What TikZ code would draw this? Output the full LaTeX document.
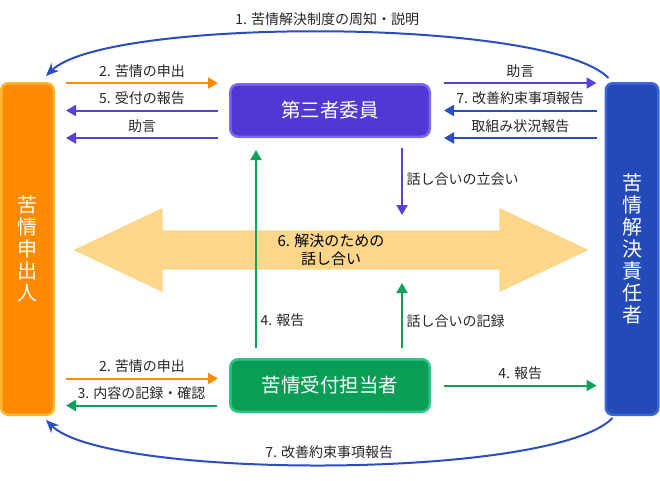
\documentclass[tikz,border=0pt]{standalone}
\usepackage{fontspec}
\setmainfont{Noto Sans CJK JP}
\usepackage{xcolor}
\usetikzlibrary{arrows.meta, shapes.arrows, positioning}

\definecolor{cOrange}{HTML}{FF8A00}
\definecolor{cOrangeEdge}{HTML}{FFB52E}
\definecolor{cBlue}{HTML}{2449B9}
\definecolor{cBlueEdge}{HTML}{3A68D8}
\definecolor{cPurple}{HTML}{5038D2}
\definecolor{cPurpleEdge}{HTML}{7E68EC}
\definecolor{cGreen}{HTML}{0A9D55}
\definecolor{cGreenEdge}{HTML}{2FC58A}
\definecolor{cPurpleLine}{HTML}{5A3FD9}
\definecolor{cBlueLine}{HTML}{2B4DC0}
\definecolor{cGreenLine}{HTML}{0FA05A}
\definecolor{cTalk}{HTML}{FDD68A}

\begin{document}
\begin{tikzpicture}[
  x=1pt, y=-1pt,
  bar/.style={rectangle, draw, rounded corners=7pt, line width=2.5pt, minimum width=52.5pt, minimum height=331.5pt, text=white, align=center, font=\fontsize{20}{22}\selectfont},
  box/.style={rectangle, draw, rounded corners=8pt, line width=2.5pt, minimum width=199.5pt, minimum height=52.5pt, text=white, font=\fontsize{19.5}{21}\selectfont},
  lbl/.style={font=\fontsize{14}{16}\selectfont, text=black!85, inner sep=1.5pt},
  arr/.style={-{Triangle[length=10pt,width=11pt]}, line width=2pt},
  curve/.style={-{Stealth[length=13pt,width=11pt]}, line width=2pt, cBlueLine}
]
\useasboundingbox (0,0) rectangle (660,480);

% Discussion arrow (behind everything)
\node[double arrow, fill=cTalk, minimum height=515pt, minimum width=84pt, double arrow head extend=19.5pt, double arrow tip angle=50.5, inner sep=1pt, align=center, font=\fontsize{15}{18}\selectfont] (talk) at (331,250) {6. 解決のための\\話し合い};

% People and committee
\node[bar, fill=cOrange, draw=cOrangeEdge] (lbar) at (27.5,249) {苦\\情\\申\\出\\人};
\node[bar, fill=cBlue, draw=cBlueEdge] (rbar) at (632,249) {苦\\情\\解\\決\\責\\任\\者};
\node[box, fill=cPurple, draw=cPurpleEdge] (tbox) at (330,110.5) {第三者委員};
\node[box, fill=cGreen, draw=cGreenEdge] (bbox) at (330,385.5) {苦情受付担当者};

% Rails next to the bars
\coordinate (lin) at ([xshift=11pt]lbar.east);
\coordinate (rin) at ([xshift=-8pt]rbar.west);
\coordinate (b1) at ([xshift=-11pt,yshift=7pt]bbox.west);
\coordinate (b2) at ([xshift=-12pt,yshift=-20pt]bbox.west);

% Arrows - committee, left
\draw[arr, cOrange] (lin |- tbox.north) -- ([xshift=-11pt]tbox.north west) node[lbl, midway, above=3pt] {2. 苦情の申出};
\draw[arr, cPurpleLine] ([xshift=-11pt]tbox.west) -- (lin |- tbox.west) node[lbl, midway, above=3pt] {5. 受付の報告};
\draw[arr, cPurpleLine] ([xshift=-11pt]tbox.south west) -- (lin |- tbox.south) node[lbl, midway, above=3pt] {助言};

% Arrows - committee, right
\draw[arr, cPurpleLine] ([xshift=13pt]tbox.north east) -- (rin |- tbox.north) node[lbl, midway, above=3pt] {助言};
\draw[arr, cBlueLine] (rin |- tbox.east) -- ([xshift=13pt]tbox.east) node[lbl, midway, above=3pt] {7. 改善約束事項報告};
\draw[arr, cBlueLine] (rin |- tbox.south) -- ([xshift=13pt]tbox.south east) node[lbl, midway, above=3pt] {取組み状況報告};

% Arrows - reception
\draw[arr, cOrange] (lin |- b1) -- (b1) node[lbl, midway, above=3pt] {2. 苦情の申出};
\draw[arr, cGreenLine] (b2) -- (lin |- b2) node[lbl, midway, above=3pt] {3. 内容の記録・確認};
\draw[arr, cGreenLine] ([xshift=13pt]bbox.east) -- (rin |- bbox.east) node[lbl, midway, above=3pt] {4. 報告};

% Vertical arrows
\draw[arr, cGreenLine] ([xshift=27pt,yshift=10pt]bbox.north west) -- ([xshift=27pt,yshift=-12pt]tbox.south west) node[lbl, pos=0.14, right=2pt] {4. 報告};
\draw[arr, cPurpleLine] ([xshift=-29pt,yshift=-10pt]tbox.south east) -- ([xshift=-29pt,yshift=-77pt]tbox.south east) node[lbl, pos=0.46, right=2pt] {話し合いの立会い};
\draw[arr, cGreenLine] ([xshift=-29pt,yshift=10pt]bbox.north east) -- ([xshift=-29pt,yshift=75pt]bbox.north east) node[lbl, pos=0.42, right=2pt] {話し合いの記録};

% Curved arrows between the bars
\draw[curve] ([xshift=4pt,yshift=4pt]rbar.north west) .. controls +(-60,-61) and +(60,-59) .. ([xshift=-9pt,yshift=6pt]lbar.north east) node[lbl, midway, above=4pt] {1. 苦情解決制度の周知・説明};
\draw[curve] ([xshift=8pt,yshift=-2pt]rbar.south west) .. controls +(-60,62) and +(60,60) .. ([xshift=-9pt,yshift=-4pt]lbar.south east) node[lbl, midway, above=4pt] {7. 改善約束事項報告};

\end{tikzpicture}
\end{document}
